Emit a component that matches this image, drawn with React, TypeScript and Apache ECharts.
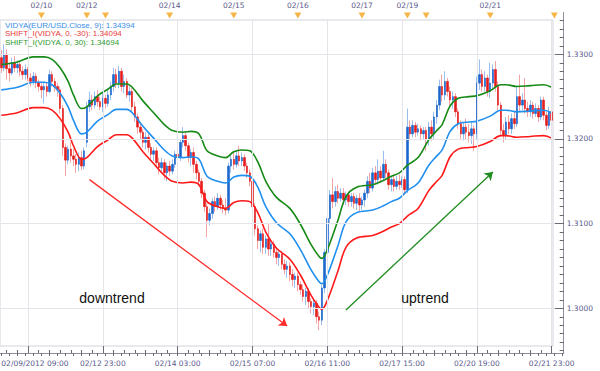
import React, { useEffect, useRef } from "react";
import * as echarts from "echarts";

// ---------- categories: hourly bars grouped by trading session ----------
const sessions: [string, number, number][] = [
  ["02/09", 9, 23], ["02/10", 0, 16], ["02/12", 17, 23], ["02/13", 0, 23],
  ["02/14", 0, 23], ["02/15", 0, 23], ["02/16", 0, 23], ["02/17", 0, 16],
  ["02/19", 17, 23], ["02/20", 0, 23], ["02/21", 0, 23], ["02/22", 0, 3],
];
const axisCategories: string[] = [];
sessions.forEach(([d, h0, h1]) => {
  for (let h = h0; h <= h1; h++) axisCategories.push(`${d} ${String(h).padStart(2, "0")}:00`);
});
const barCount = 207;
const barCategories = axisCategories.slice(0, barCount);

// ---------- tick / label lists ----------
const topLabelIdx = [15, 32, 63, 87, 111, 135, 152, 183];
const topLabelText = ["02/10", "02/12", "02/14", "02/15", "02/16", "02/17", "02/19", "02/21"];
const dayStartIdx = [15, 32, 39, 63, 87, 111, 135, 152, 159, 183, 207];
const bottomMajorIdx = [10, 38, 66, 94, 122, 150, 178, 206];
const bottomLabelIdx = [0, 38, 66, 94, 122, 150, 178, 206];
const firstBottomLabel = "02/09/2012 09:00";
const yMajor = [1.3, 1.31, 1.32, 1.33];
const yMinor: number[] = [];
for (let k = 1295; k <= 1334; k++) yMinor.push(k / 1000);

// ---------- candles: [open, close, low, high] ----------
const ohlc: [number, number, number, number][] = [
  [1.3296,1.3284,1.3278,1.3305],[1.3284,1.3300,1.3280,1.3312],[1.3300,1.3283,1.3270,1.3306],[1.3283,1.3278,1.3268,1.3290],
  [1.3278,1.3290,1.3275,1.3296],[1.3290,1.3284,1.3279,1.3298],[1.3284,1.3288,1.3278,1.3293],[1.3288,1.3280,1.3274,1.3292],
  [1.3280,1.3276,1.3270,1.3286],[1.3276,1.3282,1.3270,1.3288],[1.3282,1.3272,1.3268,1.3285],[1.3272,1.3268,1.3262,1.3278],
  [1.3268,1.3274,1.3264,1.3279],[1.3274,1.3266,1.3260,1.3278],[1.3266,1.3262,1.3256,1.3270],[1.3262,1.3258,1.3248,1.3266],
  [1.3258,1.3262,1.3242,1.3267],[1.3262,1.3256,1.3250,1.3266],[1.3256,1.3276,1.3254,1.3282],[1.3276,1.3268,1.3262,1.3280],
  [1.3268,1.3262,1.3256,1.3272],[1.3262,1.3258,1.3250,1.3266],[1.3258,1.3236,1.3230,1.3262],[1.3236,1.3190,1.3180,1.3240],
  [1.3190,1.3175,1.3156,1.3195],[1.3175,1.3188,1.3170,1.3192],[1.3188,1.3180,1.3172,1.3196],[1.3180,1.3176,1.3168,1.3188],
  [1.3176,1.3170,1.3160,1.3182],[1.3170,1.3178,1.3162,1.3184],[1.3178,1.3168,1.3163,1.3186],[1.3168,1.3186,1.3164,1.3190],
  [1.3196,1.3238,1.3190,1.3244],[1.3238,1.3246,1.3232,1.3256],[1.3246,1.3240,1.3234,1.3252],[1.3240,1.3250,1.3236,1.3256],
  [1.3250,1.3244,1.3238,1.3258],[1.3244,1.3238,1.3234,1.3250],[1.3238,1.3248,1.3232,1.3254],[1.3248,1.3242,1.3236,1.3252],
  [1.3242,1.3252,1.3238,1.3258],[1.3252,1.3262,1.3246,1.3268],[1.3262,1.3276,1.3256,1.3284],[1.3276,1.3266,1.3260,1.3283],
  [1.3266,1.3280,1.3260,1.3286],[1.3280,1.3262,1.3256,1.3284],[1.3262,1.3268,1.3254,1.3276],[1.3268,1.3252,1.3248,1.3272],
  [1.3252,1.3256,1.3244,1.3262],[1.3256,1.3238,1.3232,1.3260],[1.3238,1.3226,1.3220,1.3244],[1.3226,1.3214,1.3206,1.3230],
  [1.3214,1.3208,1.3200,1.3220],[1.3208,1.3196,1.3190,1.3212],[1.3196,1.3202,1.3188,1.3208],[1.3202,1.3190,1.3184,1.3206],
  [1.3190,1.3182,1.3176,1.3195],[1.3182,1.3186,1.3174,1.3190],[1.3186,1.3172,1.3166,1.3190],[1.3172,1.3166,1.3158,1.3178],
  [1.3166,1.3172,1.3160,1.3178],[1.3172,1.3160,1.3152,1.3176],[1.3160,1.3168,1.3150,1.3172],[1.3168,1.3162,1.3156,1.3174],
  [1.3162,1.3170,1.3158,1.3176],[1.3170,1.3182,1.3166,1.3186],[1.3182,1.3178,1.3170,1.3190],[1.3178,1.3196,1.3174,1.3200],
  [1.3196,1.3204,1.3190,1.3214],[1.3204,1.3192,1.3186,1.3208],[1.3192,1.3178,1.3172,1.3196],[1.3178,1.3184,1.3168,1.3188],
  [1.3184,1.3170,1.3160,1.3190],[1.3170,1.3160,1.3152,1.3174],[1.3160,1.3150,1.3144,1.3164],[1.3150,1.3136,1.3130,1.3154],
  [1.3136,1.3120,1.3114,1.3140],[1.3120,1.3104,1.3084,1.3124],[1.3104,1.3112,1.3098,1.3118],[1.3112,1.3126,1.3106,1.3130],
  [1.3126,1.3120,1.3114,1.3132],[1.3120,1.3130,1.3116,1.3136],[1.3130,1.3122,1.3116,1.3134],[1.3122,1.3118,1.3112,1.3128],
  [1.3118,1.3116,1.3110,1.3130],[1.3116,1.3168,1.3112,1.3172],[1.3168,1.3176,1.3160,1.3182],[1.3176,1.3170,1.3164,1.3184],
  [1.3170,1.3180,1.3166,1.3186],[1.3180,1.3174,1.3168,1.3192],[1.3174,1.3178,1.3168,1.3184],[1.3178,1.3168,1.3162,1.3182],
  [1.3168,1.3160,1.3154,1.3172],[1.3160,1.3150,1.3144,1.3164],[1.3150,1.3120,1.3114,1.3154],[1.3120,1.3094,1.3086,1.3124],
  [1.3094,1.3080,1.3070,1.3098],[1.3080,1.3088,1.3066,1.3092],[1.3088,1.3072,1.3064,1.3094],[1.3072,1.3082,1.3064,1.3086],
  [1.3082,1.3070,1.3062,1.3100],[1.3070,1.3076,1.3062,1.3080],[1.3076,1.3066,1.3060,1.3080],[1.3066,1.3060,1.3052,1.3072],
  [1.3060,1.3064,1.3050,1.3068],[1.3064,1.3052,1.3046,1.3068],[1.3052,1.3046,1.3040,1.3058],[1.3046,1.3050,1.3036,1.3056],
  [1.3050,1.3040,1.3032,1.3054],[1.3040,1.3034,1.3026,1.3046],[1.3034,1.3038,1.3024,1.3042],[1.3038,1.3028,1.3020,1.3042],
  [1.3028,1.3022,1.3016,1.3032],[1.3022,1.3014,1.3008,1.3028],[1.3014,1.3020,1.3004,1.3024],[1.3020,1.3008,1.3000,1.3024],
  [1.3008,1.3002,1.2994,1.3012],[1.3002,1.3006,1.2992,1.3010],[1.3006,1.2990,1.2982,1.3010],[1.2990,1.2986,1.2974,1.2996],
  [1.2986,1.3024,1.2980,1.3028],[1.3024,1.3066,1.3018,1.3070],[1.3066,1.3106,1.3060,1.3110],[1.3106,1.3134,1.3100,1.3140],
  [1.3134,1.3126,1.3118,1.3154],[1.3126,1.3138,1.3120,1.3144],[1.3138,1.3130,1.3124,1.3146],[1.3130,1.3136,1.3126,1.3142],
  [1.3136,1.3128,1.3122,1.3142],[1.3128,1.3134,1.3122,1.3138],[1.3134,1.3126,1.3120,1.3138],[1.3126,1.3132,1.3120,1.3136],
  [1.3132,1.3124,1.3118,1.3136],[1.3124,1.3130,1.3116,1.3134],[1.3130,1.3122,1.3114,1.3136],[1.3122,1.3128,1.3116,1.3132],
  [1.3128,1.3136,1.3120,1.3140],[1.3136,1.3150,1.3130,1.3156],[1.3150,1.3142,1.3136,1.3160],[1.3142,1.3160,1.3138,1.3166],
  [1.3160,1.3152,1.3146,1.3168],[1.3152,1.3162,1.3146,1.3176],[1.3162,1.3154,1.3148,1.3168],[1.3154,1.3170,1.3150,1.3186],
  [1.3170,1.3160,1.3154,1.3176],[1.3160,1.3146,1.3140,1.3164],[1.3146,1.3152,1.3138,1.3156],[1.3152,1.3144,1.3138,1.3158],
  [1.3144,1.3150,1.3140,1.3156],[1.3150,1.3146,1.3140,1.3158],[1.3146,1.3152,1.3142,1.3156],[1.3152,1.3140,1.3134,1.3156],
  [1.3140,1.3214,1.3136,1.3236],[1.3214,1.3206,1.3200,1.3222],[1.3206,1.3216,1.3202,1.3222],[1.3216,1.3208,1.3202,1.3220],
  [1.3208,1.3212,1.3204,1.3218],[1.3212,1.3206,1.3198,1.3216],[1.3206,1.3210,1.3200,1.3214],[1.3210,1.3200,1.3186,1.3214],
  [1.3200,1.3214,1.3192,1.3220],[1.3214,1.3206,1.3198,1.3222],[1.3206,1.3226,1.3200,1.3232],[1.3226,1.3240,1.3218,1.3246],
  [1.3240,1.3262,1.3234,1.3270],[1.3262,1.3252,1.3244,1.3276],[1.3252,1.3268,1.3246,1.3280],[1.3268,1.3256,1.3250,1.3272],
  [1.3256,1.3246,1.3238,1.3262],[1.3246,1.3250,1.3236,1.3256],[1.3250,1.3232,1.3226,1.3254],[1.3232,1.3218,1.3212,1.3236],
  [1.3218,1.3206,1.3200,1.3222],[1.3206,1.3214,1.3198,1.3220],[1.3214,1.3208,1.3200,1.3224],[1.3208,1.3204,1.3196,1.3218],
  [1.3204,1.3212,1.3194,1.3220],[1.3212,1.3206,1.3186,1.3216],[1.3206,1.3266,1.3200,1.3274],[1.3266,1.3276,1.3258,1.3294],
  [1.3276,1.3262,1.3256,1.3282],[1.3262,1.3272,1.3256,1.3280],[1.3272,1.3256,1.3250,1.3276],[1.3256,1.3266,1.3248,1.3290],
  [1.3266,1.3282,1.3258,1.3288],[1.3282,1.3262,1.3256,1.3292],[1.3262,1.3240,1.3234,1.3268],[1.3240,1.3210,1.3204,1.3244],
  [1.3210,1.3204,1.3196,1.3218],[1.3204,1.3220,1.3200,1.3226],[1.3220,1.3212,1.3206,1.3228],[1.3212,1.3224,1.3206,1.3230],
  [1.3224,1.3218,1.3212,1.3232],[1.3218,1.3250,1.3214,1.3262],[1.3250,1.3240,1.3232,1.3276],[1.3240,1.3246,1.3234,1.3254],
  [1.3246,1.3236,1.3230,1.3272],[1.3236,1.3232,1.3226,1.3244],[1.3232,1.3240,1.3226,1.3246],[1.3240,1.3230,1.3224,1.3244],
  [1.3230,1.3236,1.3226,1.3242],[1.3236,1.3226,1.3220,1.3240],[1.3226,1.3246,1.3222,1.3250],[1.3246,1.3228,1.3222,1.3250],
  [1.3228,1.3216,1.3210,1.3232],[1.3216,1.3232,1.3212,1.3238],[1.3232,1.3222,1.3216,1.3236],
];

// ---------- indicator lines: [bar index, value] ----------
const vidya: [number, number][] = [
  [0,1.3258],[6,1.3261],[12,1.3267],[16,1.3267],[19,1.3264],[22,1.3254],[25,1.3238],[27,1.3222],[30,1.3206],[32,1.3208],
  [36,1.3221],[40,1.3229],[43,1.3235],[47,1.3235],[49,1.3231],[53,1.3215],[57,1.3201],[61,1.3187],[64,1.3180],[68,1.3178],
  [71,1.3179],[74,1.3176],[77,1.3156],[81,1.3150],[84,1.3148],[87,1.3155],[90,1.3157],[93,1.3156],[96,1.3143],[99,1.3120],
  [103,1.3101],[108,1.3088],[112,1.3069],[116,1.3045],[119,1.3031],[120,1.3029],[122,1.3039],[126,1.3074],[129,1.3102],[133,1.3113],
  [139,1.3116],[143,1.3121],[146,1.3126],[149,1.3130],[152,1.3139],[156,1.3148],[160,1.3169],[163,1.3180],[165,1.3187],[168,1.3209],
  [171,1.3218],[175,1.3220],[178,1.3221],[183,1.3227],[187,1.3234],[189,1.3234],[193,1.3232],[198,1.3233],[203,1.3234],[206,1.3231],
];
const shiftDown: [number, number][] = [
  [0,1.3228],[6,1.3231],[12,1.3237],[16,1.3237],[19,1.3234],[22,1.3224],[25,1.3208],[27,1.3192],[30,1.3176],[32,1.3178],
  [36,1.3191],[40,1.3199],[43,1.3205],[47,1.3205],[49,1.3201],[53,1.3185],[57,1.3171],[61,1.3157],[64,1.3150],[68,1.3148],
  [71,1.3149],[74,1.3146],[77,1.3126],[81,1.3120],[84,1.3118],[87,1.3125],[90,1.3127],[93,1.3126],[96,1.3113],[99,1.3090],
  [103,1.3071],[108,1.3058],[112,1.3039],[116,1.3015],[119,1.3001],[120,1.2999],[122,1.3009],[126,1.3044],[129,1.3072],[133,1.3083],
  [139,1.3086],[143,1.3091],[146,1.3096],[149,1.3100],[152,1.3109],[156,1.3118],[160,1.3139],[163,1.3150],[165,1.3157],[168,1.3179],
  [171,1.3188],[175,1.3190],[178,1.3191],[183,1.3197],[187,1.3204],[189,1.3204],[193,1.3202],[198,1.3203],[203,1.3204],[206,1.3201],
];
const shiftUp: [number, number][] = [
  [0,1.3288],[6,1.3291],[12,1.3297],[16,1.3297],[19,1.3294],[22,1.3284],[25,1.3268],[27,1.3252],[30,1.3236],[32,1.3238],
  [36,1.3251],[40,1.3259],[43,1.3265],[47,1.3265],[49,1.3261],[53,1.3245],[57,1.3231],[61,1.3217],[64,1.3210],[68,1.3208],
  [71,1.3209],[74,1.3206],[77,1.3186],[81,1.3180],[84,1.3178],[87,1.3185],[90,1.3187],[93,1.3186],[96,1.3173],[99,1.3150],
  [103,1.3131],[108,1.3118],[112,1.3099],[116,1.3075],[119,1.3061],[120,1.3059],[122,1.3069],[126,1.3104],[129,1.3132],[133,1.3143],
  [139,1.3146],[143,1.3151],[146,1.3156],[149,1.3160],[152,1.3169],[156,1.3178],[160,1.3199],[163,1.3210],[165,1.3217],[168,1.3239],
  [171,1.3248],[175,1.3250],[178,1.3251],[183,1.3257],[187,1.3264],[189,1.3264],[193,1.3262],[198,1.3263],[203,1.3264],[206,1.3261],
];

const legendTexts = [
  "VIDYA(EUR/USD.Close, 9): 1.34394",
  "SHIFT_I(VIDYA, 0, -30): 1.34094",
  "SHIFT_I(VIDYA, 0, 30): 1.34694",
];
const trendTexts = ["downtrend", "uptrend"];

// annotation arrows in data space: [barIndex, price]
const downArrow: [number, number][] = [[33, 1.3152], [107, 1.2979]];
const upArrow: [number, number][] = [[129, 1.2998], [184, 1.3161]];

// ---------- styles ----------
const LABEL_COLOR = "#5a5a8c";
const AXIS_LINE = "#8e8e9a";
const TICK = "#6a6a74";
const GRID_LINE = "#e4e4ea";
const BLUE = "#1f8ff0";
const RED = "#ff1a1a";
const GREEN = "#168a16";
const legendColors = ["#3a8ee6", "#e83a3a", "#2f9a2f"];
const labelFont = { fontFamily: "DejaVu Sans", fontSize: 7.5, color: LABEL_COLOR };

const mainMin = 1.295547, mainMax = 1.334051;
const frameMin = 1.29472, frameMax = 1.334937;

const bodies = ohlc.map(([o, c]) => [o, c, Math.min(o, c), Math.max(o, c)]);

function buildOption(): any {
  return {
    animation: false,
    backgroundColor: "#ffffff",
    grid: [
      { left: 0, top: 20, width: 553, height: 326, show: true, borderColor: "#d3d3dc", borderWidth: 1,
        backgroundColor: "transparent", containLabel: false, outerBoundsMode: "none" },
      { left: 0, top: 12.5, width: 563.7, height: 340.5, show: false, containLabel: false, outerBoundsMode: "none" },
    ],
    xAxis: [
      { gridIndex: 0, type: "category", data: barCategories, boundaryGap: true, show: false },
      {
        gridIndex: 1, type: "category", data: axisCategories, position: "top", boundaryGap: true,
        axisLine: { show: true, lineStyle: { color: AXIS_LINE, width: 1 } },
        axisTick: { show: true, inside: true, length: 3, alignWithLabel: true,
          interval: (i: number) => i % 3 === 0, lineStyle: { color: TICK } },
        axisLabel: { ...labelFont, margin: 3,
          interval: (i: number) => topLabelIdx.includes(i),
          formatter: (_v: string, i: number) => { const k = topLabelIdx.indexOf(i); return k >= 0 ? topLabelText[k] : ""; } },
        splitLine: { show: false },
      },
      {
        gridIndex: 1, type: "category", data: axisCategories, position: "bottom", boundaryGap: true,
        axisLine: { show: true, lineStyle: { color: AXIS_LINE, width: 1 } },
        axisTick: { show: true, inside: true, length: 3, alignWithLabel: true,
          interval: (i: number) => i % 4 === 2 && i <= 206, lineStyle: { color: TICK } },
        axisLabel: { show: false },
        splitLine: { show: false },
      },
      {
        gridIndex: 1, type: "category", data: axisCategories, position: "bottom", boundaryGap: true,
        axisLine: { show: false },
        axisTick: { show: true, inside: true, length: 7, alignWithLabel: true,
          interval: (i: number) => bottomMajorIdx.includes(i), lineStyle: { color: TICK } },
        axisLabel: { ...labelFont, margin: 6, alignMinLabel: "left",
          interval: (i: number) => bottomLabelIdx.includes(i),
          formatter: (v: string, i: number) => (i === 0 ? firstBottomLabel : v) },
        splitLine: { show: false },
      },
    ],
    yAxis: [
      { gridIndex: 0, type: "value", min: mainMin, max: mainMax, show: false, scale: true },
      {
        gridIndex: 1, type: "value", min: frameMin, max: frameMax, position: "right", scale: true,
        axisLine: { show: true, lineStyle: { color: AXIS_LINE, width: 1 } },
        axisTick: { show: true, inside: true, length: 9, customValues: yMajor, lineStyle: { color: TICK } },
        axisLabel: { ...labelFont, margin: 3, customValues: yMajor, formatter: (v: number) => v.toFixed(4) },
        splitLine: { show: false },
      },
      {
        gridIndex: 1, type: "value", min: frameMin, max: frameMax, position: "right", scale: true,
        axisLine: { show: false },
        axisTick: { show: true, inside: true, length: 4, customValues: yMinor, lineStyle: { color: TICK } },
        axisLabel: { show: false },
        splitLine: { show: false },
      },
      { gridIndex: 1, type: "value", min: 0, max: 1, show: false },
    ],
    series: [
      {
        name: "grid", type: "line", xAxisIndex: 0, yAxisIndex: 0, data: [], z: 0, silent: true,
        markLine: {
          silent: true, symbol: "none", label: { show: false }, animation: false,
          lineStyle: { color: GRID_LINE, width: 1, type: "solid" },
          data: [
            ...yMajor.map((v) => ({ yAxis: v })),
            ...bottomMajorIdx.map((i) => ({ xAxis: barCategories[i] })),
          ],
        },
      },
      {
        name: "wicks", type: "candlestick", xAxisIndex: 0, yAxisIndex: 0, data: ohlc, barWidth: 1, z: 2,
        itemStyle: { color: "#98bfee", color0: "#f3a3a3", borderColor: "#98bfee", borderColor0: "#f3a3a3", borderWidth: 1 },
      },
      {
        name: "bodies", type: "candlestick", xAxisIndex: 0, yAxisIndex: 0, data: bodies, barWidth: 2, z: 3,
        itemStyle: { color: "#1b67cc", color0: "#e41c1c", borderColor: "#1b67cc", borderColor0: "#e41c1c", borderWidth: 0.6 },
      },
      {
        name: "SHIFT_I(VIDYA, 0, 30)", type: "line", xAxisIndex: 0, yAxisIndex: 0, data: shiftUp, smooth: 0.35,
        showSymbol: false, z: 4, lineStyle: { color: GREEN, width: 1.6 }, itemStyle: { color: GREEN },
      },
      {
        name: "VIDYA", type: "line", xAxisIndex: 0, yAxisIndex: 0, data: vidya, smooth: 0.35,
        showSymbol: false, z: 4, lineStyle: { color: BLUE, width: 1.6 }, itemStyle: { color: BLUE },
      },
      {
        name: "SHIFT_I(VIDYA, 0, -30)", type: "line", xAxisIndex: 0, yAxisIndex: 0, data: shiftDown, smooth: 0.35,
        showSymbol: false, z: 4, lineStyle: { color: RED, width: 1.6 }, itemStyle: { color: RED },
      },
      {
        name: "arrows", type: "line", xAxisIndex: 0, yAxisIndex: 0, data: [], z: 5, silent: true,
        markLine: {
          silent: true, symbol: ["none", "arrow"], symbolSize: 8, label: { show: false }, animation: false,
          data: [
            [{ coord: downArrow[0], lineStyle: { color: "#ff2a2a", width: 1.3, type: "solid" }, itemStyle: { color: "#ff2a2a" } },
             { coord: downArrow[1] }],
            [{ coord: upArrow[0], lineStyle: { color: "#1e8c1e", width: 1.3, type: "solid" }, itemStyle: { color: "#1e8c1e" } },
             { coord: upArrow[1] }],
          ],
        },
      },
      {
        name: "days", type: "scatter", xAxisIndex: 1, yAxisIndex: 3, clip: false, silent: true, z: 6,
        data: dayStartIdx.map((i) => [i, 1]),
        symbol: "triangle", symbolRotate: 180, symbolSize: [7, 6], symbolOffset: [0, 3],
        itemStyle: { color: "#f4a21c" },
      },
    ],
    graphic: [
      ...legendTexts.map((t, k) => ({
        type: "text", x: 5, y: 25 + k * 8.8, silent: true, z: 10,
        style: { text: t, fill: legendColors[k], fontFamily: "Liberation Sans", fontSize: 8,
          align: "left", verticalAlign: "middle" },
      })),
      {
        type: "text", x: 112, y: 298, silent: true, z: 10,
        style: { text: trendTexts[0], fill: "#111111", fontFamily: "Liberation Sans", fontSize: 14,
          align: "center", verticalAlign: "middle" },
      },
      {
        type: "text", x: 425, y: 298, silent: true, z: 10,
        style: { text: trendTexts[1], fill: "#111111", fontFamily: "Liberation Sans", fontSize: 14,
          align: "center", verticalAlign: "middle" },
      },
    ],
  };
}

export default function App() {
  const ref = useRef<HTMLDivElement>(null);
  useEffect(() => {
    document.body.style.margin = "0";
    const chart = echarts.init(ref.current as HTMLDivElement, null, { renderer: "svg" });
    chart.setOption(buildOption());
    return () => chart.dispose();
  }, []);
  return (
    <div
      ref={ref}
      style={{ position: "fixed", left: 0, top: 0, width: 600, height: 371, background: "#ffffff" }}
    />
  );
}
